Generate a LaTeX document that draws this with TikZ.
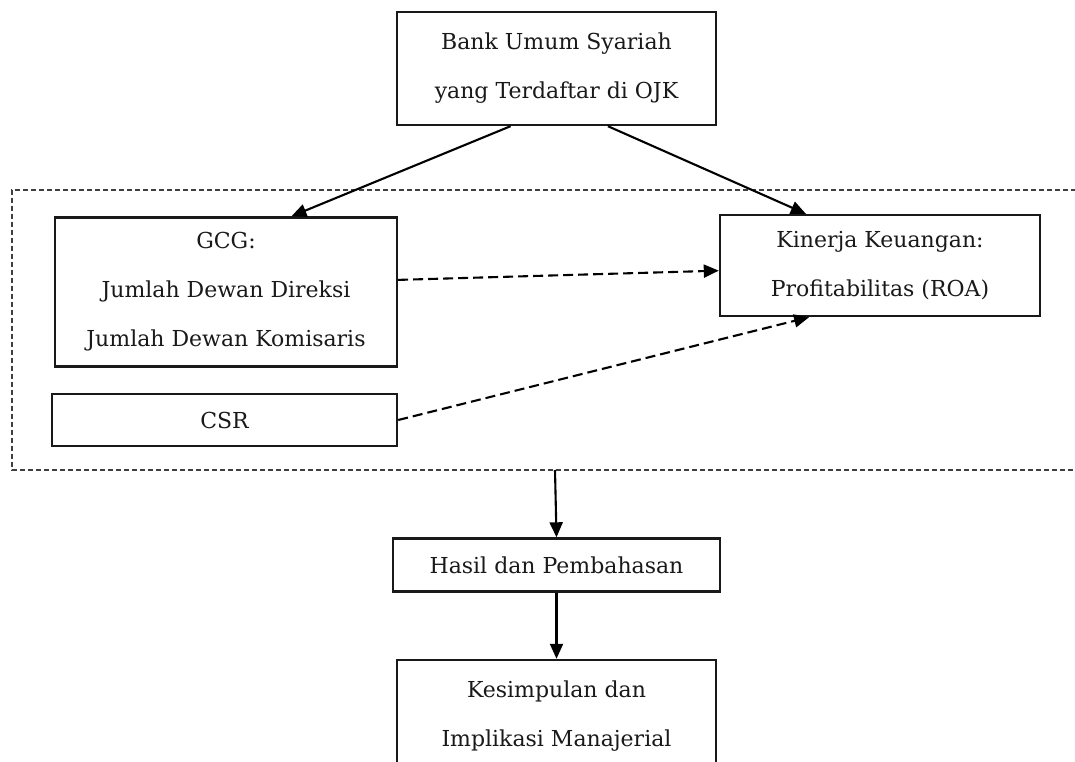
\documentclass[tikz,border=0pt]{standalone}
\usepackage{fontspec}
\setmainfont{DejaVu Serif}
\usetikzlibrary{arrows.meta,calc}
\begin{document}
\begin{tikzpicture}[x=1pt,y=-1pt,
  box/.style={draw=black!90,line width=2.4pt,align=center,inner sep=0pt,
    font=\fontsize{22}{49}\selectfont,text=black!90},
  arr/.style={line width=2.1pt,-{Triangle[length=15pt,width=13pt]}},
  darr/.style={arr,dash pattern=on 10pt off 5pt},
  frame/.style={line width=1.5pt,dash pattern=on 5pt off 3pt,draw=black!75}]
\useasboundingbox (0,0) rectangle (1075,762);
\clip (0,0) rectangle (1075,762);

\node[box,minimum width=319pt,minimum height=113pt] (top) at (556.5,68.5)
  {Bank Umum Syariah\\yang Terdaftar di OJK};
\node[box,minimum width=342pt,minimum height=149pt] (gcg) at (226,292)
  {GCG:\\Jumlah Dewan Direksi\\Jumlah Dewan Komisaris};
\node[box,minimum width=345pt,minimum height=52pt] (csr) at (224.5,420) {CSR};
\node[box,minimum width=320pt,minimum height=101pt] (kin) at (880,265.5)
  {Kinerja Keuangan:\\Profitabilitas (ROA)};
\node[box,minimum width=327pt,minimum height=53pt] (hasil) at (556.5,565)
  {Hasil dan Pembahasan};
\node[box,minimum width=319pt,minimum height=112pt] (kes) at (556.5,716)
  {Kesimpulan dan\\Implikasi Manajerial};

\draw[frame] (1100,190) -- (12,190) -- (12,470) -- (1100,470);
\coordinate (fb) at (555,470);

\draw[arr] ($(top.south west)!0.357!(top.south east)$) -- ($(gcg.north west)!0.69!(gcg.north east)$);
\draw[arr] ($(top.south west)!0.66!(top.south east)$) -- ($(kin.north west)!0.27!(kin.north east)$);
\draw[darr] ($(gcg.north east)!0.42!(gcg.south east)$) -- ($(kin.north west)!0.55!(kin.south west)$);
\draw[darr] (csr.east) -- ($(kin.south west)!0.28!(kin.south east)$);
\draw[arr] (fb) -- (hasil.north);
\draw[arr] (hasil.south) -- (kes.north);
\end{tikzpicture}
\end{document}
